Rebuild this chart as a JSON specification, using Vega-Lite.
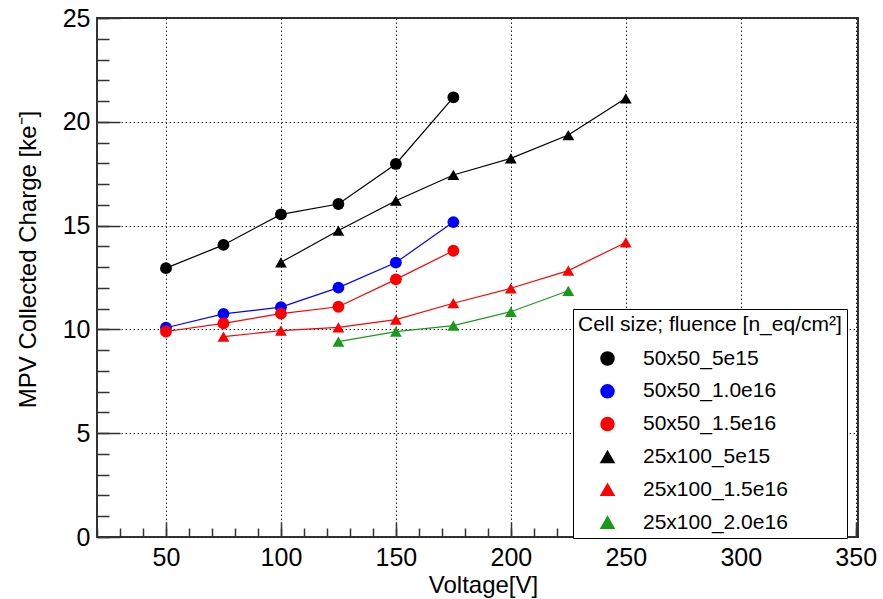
{
  "$schema": "https://vega.github.io/schema/vega-lite/v6.json",
  "width": 761,
  "height": 519,
  "autosize": {"type": "none"},
  "padding": {"left": 97, "top": 18, "right": 25, "bottom": 62},
  "background": "white",
  "config": {
    "font": "Liberation Sans",
    "view": {"stroke": "#333333", "strokeWidth": 2}
  },
  "data": {
    "values": [
      {"series": "50x50_5e15", "voltage": 50, "charge": 12.95},
      {"series": "50x50_5e15", "voltage": 75, "charge": 14.07},
      {"series": "50x50_5e15", "voltage": 100, "charge": 15.54},
      {"series": "50x50_5e15", "voltage": 125, "charge": 16.04},
      {"series": "50x50_5e15", "voltage": 150, "charge": 17.97},
      {"series": "50x50_5e15", "voltage": 175, "charge": 21.18},
      {"series": "50x50_1.0e16", "voltage": 50, "charge": 10.08},
      {"series": "50x50_1.0e16", "voltage": 75, "charge": 10.75},
      {"series": "50x50_1.0e16", "voltage": 100, "charge": 11.07},
      {"series": "50x50_1.0e16", "voltage": 125, "charge": 12.01},
      {"series": "50x50_1.0e16", "voltage": 150, "charge": 13.22},
      {"series": "50x50_1.0e16", "voltage": 175, "charge": 15.17},
      {"series": "50x50_1.5e16", "voltage": 50, "charge": 9.9},
      {"series": "50x50_1.5e16", "voltage": 75, "charge": 10.29},
      {"series": "50x50_1.5e16", "voltage": 100, "charge": 10.76},
      {"series": "50x50_1.5e16", "voltage": 125, "charge": 11.09},
      {"series": "50x50_1.5e16", "voltage": 150, "charge": 12.41},
      {"series": "50x50_1.5e16", "voltage": 175, "charge": 13.79},
      {"series": "25x100_5e15", "voltage": 100, "charge": 13.23},
      {"series": "25x100_5e15", "voltage": 125, "charge": 14.76},
      {"series": "25x100_5e15", "voltage": 150, "charge": 16.2},
      {"series": "25x100_5e15", "voltage": 175, "charge": 17.44},
      {"series": "25x100_5e15", "voltage": 200, "charge": 18.24},
      {"series": "25x100_5e15", "voltage": 225, "charge": 19.36},
      {"series": "25x100_5e15", "voltage": 250, "charge": 21.13},
      {"series": "25x100_1.5e16", "voltage": 75, "charge": 9.65},
      {"series": "25x100_1.5e16", "voltage": 100, "charge": 9.94},
      {"series": "25x100_1.5e16", "voltage": 125, "charge": 10.1},
      {"series": "25x100_1.5e16", "voltage": 150, "charge": 10.47},
      {"series": "25x100_1.5e16", "voltage": 175, "charge": 11.26},
      {"series": "25x100_1.5e16", "voltage": 200, "charge": 11.98},
      {"series": "25x100_1.5e16", "voltage": 225, "charge": 12.83},
      {"series": "25x100_1.5e16", "voltage": 250, "charge": 14.19},
      {"series": "25x100_2.0e16", "voltage": 125, "charge": 9.41},
      {"series": "25x100_2.0e16", "voltage": 150, "charge": 9.89},
      {"series": "25x100_2.0e16", "voltage": 175, "charge": 10.18},
      {"series": "25x100_2.0e16", "voltage": 200, "charge": 10.85},
      {"series": "25x100_2.0e16", "voltage": 225, "charge": 11.86}
    ]
  },
  "layer": [
    {
      "mark": {"type": "line", "strokeWidth": 1.2},
      "encoding": {
        "x": {
          "field": "voltage", "type": "quantitative",
          "scale": {"domain": [20, 351], "nice": false, "zero": false},
          "axis": {
            "orient": "bottom",
            "values": [50, 100, 150, 200, 250, 300, 350],
            "domain": false,
            "tickSize": -15, "tickColor": "#333333", "tickWidth": 1.5,
            "grid": true, "gridDash": [1.5, 2.5], "gridColor": "#222222", "gridWidth": 1, "gridOpacity": 1,
            "labelFontSize": 25, "labelColor": "black", "labelPadding": 23, "labelFlush": false, "labelOverlap": false,
            "title": "Voltage[V]", "titleFontSize": 24, "titleFontWeight": "normal", "titleColor": "black",
            "titlePadding": 3, "titleX": 386
          }
        },
        "y": {
          "field": "charge", "type": "quantitative",
          "scale": {"domain": [0, 25], "nice": false, "zero": false},
          "axis": {
            "orient": "left",
            "values": [0, 5, 10, 15, 20, 25],
            "domain": false,
            "tickSize": -23, "tickColor": "#333333", "tickWidth": 1.5,
            "grid": true, "gridDash": [1.5, 2.5], "gridColor": "#222222", "gridWidth": 1, "gridOpacity": 1,
            "labelFontSize": 25, "labelColor": "black", "labelPadding": 30, "labelFlush": false, "labelOverlap": false,
            "title": "MPV Collected Charge [ke⁻]", "titleFontSize": 24, "titleFontWeight": "normal", "titleColor": "black",
            "titlePadding": 22, "titleY": 241
          }
        },
        "color": {
          "field": "series", "type": "nominal",
          "scale": {
            "domain": ["50x50_5e15", "50x50_1.0e16", "50x50_1.5e16", "25x100_5e15", "25x100_1.5e16", "25x100_2.0e16"],
            "range": ["#000000", "#0000ff", "#ff0000", "#000000", "#ff0000", "#1a9a1a"]
          }
        },
        "order": {"field": "voltage", "type": "quantitative"}
      }
    },
    {
      "mark": {"type": "point", "filled": true, "size": 140, "opacity": 1},
      "encoding": {
        "x": {
          "field": "voltage", "type": "quantitative",
          "axis": {
            "orient": "bottom",
            "values": [20, 30, 40, 50, 60, 70, 80, 90, 100, 110, 120, 130, 140, 150, 160, 170, 180, 190, 200, 210, 220, 230, 240, 250, 260, 270, 280, 290, 300, 310, 320, 330, 340, 350],
            "domain": false, "grid": false, "labels": false, "title": null,
            "tickSize": -9, "tickColor": "#333333", "tickWidth": 1.5
          }
        },
        "y": {
          "field": "charge", "type": "quantitative",
          "axis": {
            "orient": "left",
            "values": [0, 1, 2, 3, 4, 5, 6, 7, 8, 9, 10, 11, 12, 13, 14, 15, 16, 17, 18, 19, 20, 21, 22, 23, 24, 25],
            "domain": false, "grid": false, "labels": false, "title": null,
            "tickSize": -12, "tickColor": "#333333", "tickWidth": 1.5
          }
        },
        "color": {
          "field": "series", "type": "nominal",
          "legend": {
            "orient": "none", "legendX": 476, "legendY": 291,
            "title": "Cell size; fluence [n_eq/cm²]", "titleLimit": 500,
            "titleFontSize": 21, "titleFontWeight": "normal", "titleColor": "black", "titlePadding": 13,
            "labelFontSize": 21, "labelColor": "black", "labelOffset": 25, "labelLimit": 400,
            "padding": 5, "rowPadding": 10.8, "symbolSize": 169, "symbolOffset": 19,
            "strokeColor": "black", "fillColor": "white", "cornerRadius": 0
          }
        },
        "shape": {
          "field": "series", "type": "nominal",
          "scale": {
            "domain": ["50x50_5e15", "50x50_1.0e16", "50x50_1.5e16", "25x100_5e15", "25x100_1.5e16", "25x100_2.0e16"],
            "range": ["circle", "circle", "circle", "triangle-up", "triangle-up", "triangle-up"]
          }
        }
      }
    }
  ],
  "resolve": {"axis": {"x": "independent", "y": "independent"}}
}
